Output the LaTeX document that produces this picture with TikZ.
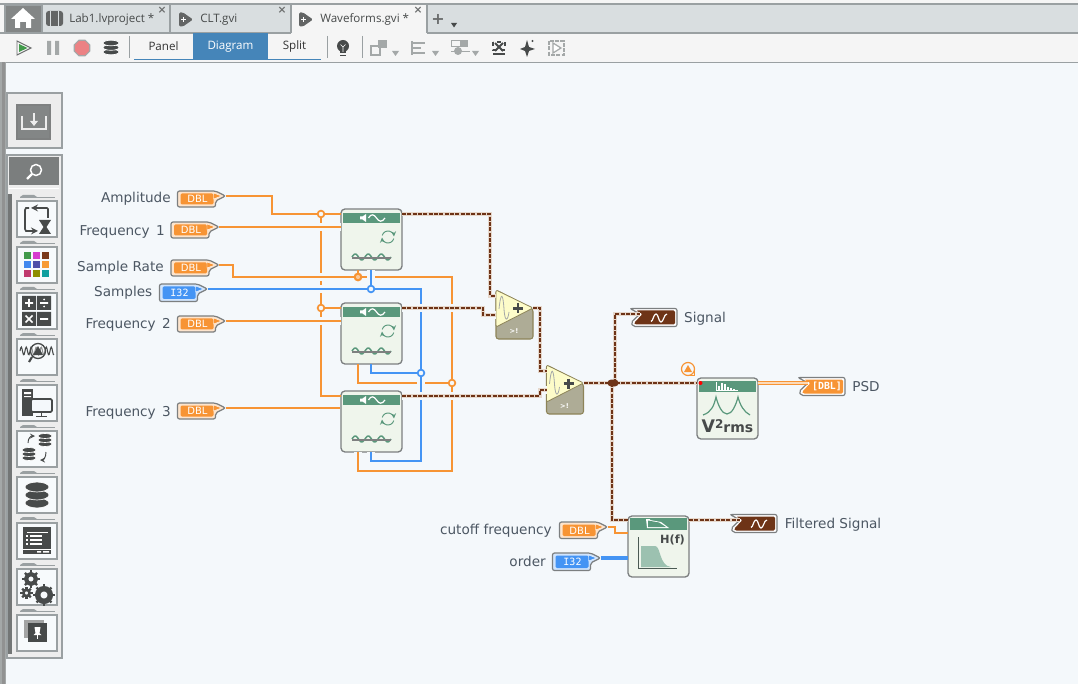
\documentclass[tikz,border=0pt]{standalone}
\usepackage{fontspec}
\setmainfont{DejaVu Sans}
\newfontfamily\tabfont{Open Sans}
\newfontfamily\typefont{DejaVu Sans Mono}
\usetikzlibrary{shapes.geometric}
\usetikzlibrary{calc}
\definecolor{canvas}{HTML}{F4F8FB}
\definecolor{barbg}{HTML}{F5F5F5}
\definecolor{tabbg}{HTML}{D9DEE0}
\definecolor{edgegray}{HTML}{9AA0A2}
\definecolor{palbg}{HTML}{EDEDED}
\definecolor{icondark}{HTML}{474A4A}
\definecolor{icongray}{HTML}{A4A8A8}
\definecolor{orangew}{HTML}{F79434}
\definecolor{bluew}{HTML}{4494F4}
\definecolor{brownw}{HTML}{6E3417}
\definecolor{sigtan}{HTML}{E6D8CC}
\definecolor{lblcol}{HTML}{4C5763}
\definecolor{termedge}{HTML}{7C7F80}
\definecolor{vihead}{HTML}{5A987C}
\definecolor{vibody}{HTML}{EFF5EC}
\definecolor{addgray}{HTML}{AEAC96}
\definecolor{addyellow}{HTML}{FDFCC9}
\definecolor{addedge}{HTML}{8D8458}
\definecolor{tabblue}{HTML}{4585B9}
\definecolor{stopred}{HTML}{EC8284}
\definecolor{gridA}{HTML}{429A4B}
\definecolor{gridB}{HTML}{D63CCF}
\definecolor{gridC}{HTML}{7B3A1B}
\definecolor{gridD}{HTML}{4288EE}
\definecolor{gridE}{HTML}{4E4FA8}
\definecolor{gridF}{HTML}{F79A34}
\definecolor{gridG}{HTML}{C03A6E}
\definecolor{gridH}{HTML}{8E8E00}
\definecolor{gridI}{HTML}{0F9F9F}
\tikzset{
	dblwire/.style={draw=orangew,line width=1.5pt},
	dblthick/.style={draw=orangew,line width=2.2pt},
	intwire/.style={draw=bluew,line width=1.6pt},
	ordwire/.style={draw=bluew,line width=2.3pt},
	sigwire/.style={preaction={draw=sigtan,solid,line width=2.5pt},draw=brownw,line width=1.7pt,dash pattern=on 3pt off 1pt},
	bridge/.style={preaction={draw=canvas,solid,line width=5.6pt}},
	arraywire/.style={draw=orangew,line width=.9pt,double=orangew!35,double distance=.9pt},
	junct/.style={circle,draw=#1,fill=canvas,line width=1.3pt,minimum size=5pt,inner sep=0pt},
	bigjunct/.style={circle,draw=orangew,fill=orangew!50,line width=1.5pt,minimum size=5pt,inner sep=0pt},
	viblock/.style={draw=termedge,fill=vibody,rounded corners=3pt,line width=1pt,minimum width=45.75pt,minimum height=45.75pt,inner sep=0pt},
	lbl/.style={font=\fontsize{10.2}{12}\selectfont,text=lblcol,inner sep=0pt},
	tabtext/.style={font=\tabfont\fontsize{8.7}{11}\selectfont,text=#1,inner sep=0pt},
	typetext/.style={font=\fontsize{7.5}{9}\selectfont,text=white,inner sep=0pt},
	btn/.style={draw=edgegray,fill=canvas!70!white,line width=.8pt},
	tinyx/.style={font=\bfseries\fontsize{8}{9}\selectfont,text=icondark!80,inner sep=0pt},
}
% constant with a pointer on its right side
\newcommand{\constterm}[6]{
	\begin{scope}[shift={(#2,#3)}]
	\path[draw=termedge,fill=#5!25!white,line width=.9pt,rounded corners=1.5pt] (0,0)--(38,0)--(48,5)--(38,10)--(38,#6)--(0,#6)--cycle;
	\path[fill=#5,rounded corners=1pt] (3,2.5)--(36,2.5)--(36,#6-2.5)--(3,#6-2.5)--cycle;
	\path[fill=#5,draw=white,line width=.3pt] (36,2)--(44,5)--(36,8)--cycle;
	\node[typetext] (#1) at (20,#6/2+.3) {#4};
	\coordinate (#1-tip) at (48,5);
	\end{scope}
}
% indicator with a notch on its left side
\newcommand{\tagterm}[4]{
	\begin{scope}[shift={(#2,#3)}]
	\path[draw=termedge,fill=white,line width=.9pt,rounded corners=1.5pt] (0,0)--(47,0)--(47,18)--(3,18)--(1,14)--(10,5.5)--cycle;
	\path[fill=#4,rounded corners=1pt] (6,2)--(45,2)--(45,16)--(5,16)--(4,14.5)--(12.5,5.5)--cycle;
	\coordinate (#1-in) at (10,5.5);
	\end{scope}
}
\newcommand{\waveicon}[2]{\draw[white,line width=.9pt] (#1-8,#2+3.5) .. controls (#1-6,#2+3.5) and (#1-5.5,#2-4) .. (#1-3,#2-4) .. controls (#1-.5,#2-4) and (#1-.5,#2+4) .. (#1+2,#2+4) .. controls (#1+4.5,#2+4) and (#1+5,#2-4) .. (#1+8,#2-4);}
% simulate signal block
\newcommand{\simvi}[3]{
	\begin{scope}[shift={(#2,#3)}]
	\node[viblock] (#1) at (30.5,30.5) {};
	\fill[vihead] (2,4) rectangle (59,14);
	\fill[white] (19,7.5)--(21.5,7.5)--(25,5)--(25,13)--(21.5,10.5)--(19,10.5)--cycle;
	\draw[white,line width=.9pt] (27.5,9) .. controls (30,4.5) and (33,5) .. (35.5,9) .. controls (38,13) and (41,13.5) .. (44,9);
	\draw[vihead,line width=.7pt,->,>=stealth] (47,28)++(195:6) arc (195:355:6);
	\draw[vihead,line width=.7pt,->,>=stealth] (47,28)++(15:6) arc (15:175:6);
	\draw[vihead,line width=1.1pt,domain=0:39,samples=40,smooth] plot ({11+\x},{48-3*sin(\x*360/13)});
	\draw[icondark!70,line width=.8pt] (11,49)--(50,49);
	\coordinate (#1-a) at (0,5);
	\coordinate (#1-f) at (0,18);
	\coordinate (#1-r) at (17,61);
	\coordinate (#1-n) at (30,61);
	\coordinate (#1-o) at (61,5);
	\end{scope}
}
% add block
\newcommand{\addvi}[3]{
	\begin{scope}[shift={(#2,#3)}]
	\path[draw=addedge,fill=addgray,line width=.8pt,rounded corners=2pt] (0,0)--(37,19)--(37,49)--(0,49)--cycle;
	\path[fill=addyellow,draw=addedge,line width=.6pt,rounded corners=1pt] (0,0)--(37,18)--(0,37)--cycle;
	\draw[icongray,line width=.6pt] (3,19) .. controls (5,0) and (7,4) .. (8,19) .. controls (9,34) and (12,30) .. (13,22);
	\draw[icondark,line width=1.8pt] (17,18.5)--(27,18.5) (22,13.5)--(22,23.5);
	\node[typetext,font=\bfseries\fontsize{5}{6}\selectfont,text=white] (#1) at (18,41) {>!};
	\coordinate (#1-a) at (0,6);
	\coordinate (#1-b) at (0,25);
	\coordinate (#1-o) at (37,18);
	\end{scope}
}
% stack of discs
\newcommand{\dbicon}[5]{
	\foreach \k in {2,1,0} {\filldraw[fill=#5,draw=white,line width=.5pt] (#1,#2+\k*#4) ellipse (#3 and #4*.62);}
}
\newcommand{\gearicon}[3]{
	\foreach \a in {0,45,...,315} {\draw[icondark,line width=1.7pt] ($(#1,#2)+(\a:#3-1)$)--($(#1,#2)+(\a:#3+1.6)$);}
	\draw[icondark,line width=#3*.45pt] (#1,#2) circle (#3*.7);
}
\begin{document}
\begin{tikzpicture}[x=.75pt,y=-.75pt]
	\useasboundingbox (0,0) rectangle (1078,684);
	\fill[canvas] (0,0) rectangle (1078,684);
	% tabs
	\fill[barbg] (0,0) rectangle (1078,62);
	\fill[tabbg] (41,5) rectangle (1078,33);
	\draw[edgegray,line width=.8pt] (0,4)--(1078,4);
	\fill[barbg] (291,5) rectangle (427,34);
	\fill[icongray!80!black] (5,5) rectangle (42,33);
	\draw[edgegray,line width=.8pt] (5,5) rectangle (42,33) (170,5)--(170,33) (291,5)--(291,33) (427,5)--(427,33) (0,33)--(291,33) (427,33)--(1078,33);
	\fill[white] (11,19)--(23,8)--(35,19)--(31,19)--(31,28)--(26,28)--(26,22)--(20,22)--(20,28)--(15,28)--(15,19)--cycle;
	\fill[icondark!85,rounded corners=2pt] (46,11) rectangle (63,26);
	\draw[tabbg,line width=.7pt] (50.5,11)--(50.5,26) (58.5,11)--(58.5,26);
	\foreach \tx in {179,299} {\fill[icondark!85,rounded corners=1pt] (\tx,12.5)--(\tx+4,12.5)--(\tx+14,19.5)--(\tx+4,26.5)--(\tx,26.5)--cycle;\draw[white,line width=.6pt] (\tx+2,19.5)--(\tx+7,19.5) (\tx+4.5,17)--(\tx+4.5,22);}
	\node[tabtext=icondark,anchor=west] (tablab) at (69,19.5) {Lab1.lvproject *};
	\node[tabtext=icondark,anchor=west] (tabclt) at (200,19.5) {CLT.gvi};
	\node[tabtext=icondark,anchor=west] (tabwave) at (320,19.5) {Waveforms.gvi *};
	\node[tinyx] (xlab) at (162,10.5) {×};
	\node[tinyx] (xclt) at (282,10.5) {×};
	\node[tinyx] (xwave) at (418,10.5) {×};
	\node[tinyx,font=\bfseries\fontsize{12}{13}\selectfont] (plustab) at (438,19) {+};
	\fill[icondark] (451,23)--(457,23)--(454,27.5)--cycle;
	% toolbar
	\draw[edgegray,line width=.8pt] (0,62.5)--(1078,62.5);
	\draw[icondark!80,line width=.7pt,fill=barbg] (17,41)--(31,48)--(17,55)--cycle;
	\fill[gridA] (19,44)--(27.5,48)--(19,52)--cycle;
	\fill[icongray] (47,41) rectangle (51,55) (55,41) rectangle (59,55);
	\node[regular polygon,regular polygon sides=8,draw=icongray,fill=stopred,line width=.9pt,minimum size=12.5pt,inner sep=0pt] (stopbtn) at (82,48) {};
	\dbicon{111}{43}{8}{4.5}{icondark}
	\draw[edgegray,line width=.6pt] (129,36)--(129,58) (327,36)--(327,58) (362,36)--(362,58);
	\fill[tabblue] (193,33.5) rectangle (268,59);
	\draw[tabblue,line width=1.1pt] (134,59.5)--(321,59.5);
	\node[tabtext=black!80] (tabpanel) at (163.5,46.5) {Panel};
	\node[tabtext=white] (tabdiagram) at (230.5,46.5) {Diagram};
	\node[tabtext=black!80] (tabsplit) at (294.5,46.5) {Split};
	\fill[icondark] (343,46) circle (6);
	\fill[icondark] (340,50) rectangle (346,53);
	\draw[white,line width=.5pt] (343,52)--(343,47) (340.5,44.5)--(343,47)--(345.5,44.5);
	\draw[icondark,line width=.7pt] (340,55)--(346,55);
	\draw[icongray,line width=.9pt] (371,46) rectangle (380,55);
	\fill[icongray] (378,40) rectangle (387,48);
	\draw[icongray,line width=.9pt] (412,41)--(412,55) (412,43)--(425,43) (412,48)--(421,48) (412,53)--(425,53);
	\draw[icongray,line width=.6pt] (451,46)--(451,40)--(467,40)--(467,46)--cycle;
	\fill[icongray] (460,40) rectangle (467,46);
	\fill[icongray] (458,51) circle (4);
	\draw[icongray,line width=.6pt] (451,51)--(470,51);
	\foreach \tx in {392,432,472} {\fill[icongray] (\tx,51)--(\tx+7,51)--(\tx+3.5,56)--cycle;}
	\draw[icondark,line width=.8pt,dashed] (493,42) rectangle (505,50);
	\draw[icondark,line width=.8pt] (493,54)--(505,54);
	\draw[icondark,line width=1.5pt] (495,43)--(503,51) (503,43)--(495,51);
	\fill[icondark] (527,40)--(529,47)--(535,49)--(529,51)--(527,57)--(525,51)--(520,49)--(525,47)--cycle;
	\fill[icondark] (532.5,41) circle (1.2);
	\draw[icongray,line width=.9pt,dash pattern=on 3pt off 1pt] (549,41) rectangle (564,55);
	\draw[icongray,fill=white,line width=.9pt] (553,43)--(561,48)--(553,53)--cycle;
	% palette
	\fill[icongray] (0,62) rectangle (6,684);
	\fill[icondark!60!white] (2,62) rectangle (5,684);
	\draw[edgegray,fill=palbg,line width=.8pt] (7,93) rectangle (62,148);
	\draw[icondark!70,fill=icongray!80!black,line width=.8pt] (17,105) rectangle (50,139);
	\draw[palbg,line width=1.1pt] (22,116)--(22,129)--(46,129)--(46,116) (34,113)--(34,123);
	\fill[palbg] (30,121)--(38,121)--(34,126)--cycle;
	\draw[edgegray,fill=palbg,line width=.8pt] (7,155) rectangle (62,658);
	\fill[icongray!75!black] (9,157) rectangle (59,185);
	\draw[white,line width=.6pt] (9,188)--(59,188);
	\draw[white,line width=1.1pt] (36,170) circle (5.5);
	\draw[white,line width=1.6pt] (32,174)--(27,179);
	\fill[icongray!70!black] (8,194) rectangle (12,654);
	\foreach \by in {201,247,...,615} {
		\draw[btn] (17,\by) rectangle (57,\by+36);
		\draw[edgegray,line width=.7pt] (20,\by-4)--(55,\by-4);
		\fill[edgegray] (20,\by-4)--(23,\by-6)--(34,\by-6)--(37,\by-4)--cycle;
	}
	% loop
	\draw[icondark,line width=1.3pt,->,>=stealth] (48,218)--(48,209)--(47,208)--(31,208);
	\draw[icondark,line width=1.3pt,->,>=stealth] (29,208)--(26,208)--(25,210)--(25,229)--(26,231)--(38,231);
	\fill[icondark] (39,220)--(51,220)--(46.5,227)--(51,234)--(39,234)--(43.5,227)--cycle;
	% colour grid
	\foreach \cx/\cy/\cc in {24/252/gridA,33/252/gridB,42/252/gridC,24/261/gridD,33/261/gridE,42/261/gridF,24/270/gridG,33/270/gridH,42/270/gridI} {\fill[\cc] (\cx,\cy) rectangle (\cx+7,\cy+7);}
	% math
	\fill[icondark] (22,296) rectangle (36,310) (37,296) rectangle (51,310) (22,312) rectangle (36,326) (37,312) rectangle (51,326);
	\draw[white,line width=1.2pt] (25,303)--(33,303) (29,299)--(29,307) (40,303)--(48,303) (25.5,315.5)--(32.5,322.5) (32.5,315.5)--(25.5,322.5) (40,319)--(48,319);
	\fill[white] (44,299.5) circle (1) (44,306.5) circle (1);
	% wave and lens
	\draw[icondark,line width=.8pt,domain=0:34,samples=50,smooth] plot ({20+\x},{351-4*sin(\x*72)});
	\draw[icondark,line width=1pt,fill=white,fill opacity=.4] (38,351) circle (7.5);
	\fill[icondark] (33,355)--(38,346)--(43,355)--cycle;
	\draw[icondark,line width=1.6pt] (32,357)--(29,362);
	% computer
	\fill[icondark] (22,389) rectangle (33,416);
	\fill[white] (24,392) rectangle (31,394) (24,396) rectangle (31,397);
	\draw[icondark,fill=canvas,line width=1.3pt,rounded corners=1pt] (31,399) rectangle (52,412);
	\draw[icondark,line width=1.3pt] (41.5,412)--(41.5,416) (36,416.5)--(47,416.5);
	% two stores
	\dbicon{45}{436}{7}{4}{icondark}
	\dbicon{29}{450}{7}{4}{icondark}
	\draw[icondark,line width=.7pt,->,>=stealth] (28,443) .. controls (28,438) and (31,436) .. (35,436);
	\draw[icondark,line width=.7pt,->,>=stealth] (46,452) .. controls (46,458) and (43,460) .. (40,460);
	% store
	\dbicon{37}{487}{12}{8}{icondark}
	% window
	\fill[icondark] (23,527) rectangle (51,554);
	\draw[white,line width=.7pt] (27,532)--(48,532) (23,549)--(51,549);
	\foreach \wy in {536,540,544} {\fill[white] (26,\wy-.8) rectangle (28,\wy+.8);\draw[white,line width=.8pt] (30,\wy)--(42,\wy);}
	\fill[white] (37,551) rectangle (41,552.5) (43,551) rectangle (49,552.5);
	% gears
	\gearicon{31}{579}{7}
	\gearicon{26.5}{593}{4.5}
	\gearicon{44}{595}{9}
	% pin
	\fill[icondark!50!white] (24,620) rectangle (44,638);
	\fill[icondark] (28,623) rectangle (47,642);
	\fill[white] (34.5,627)--(40.5,627)--(39.5,633)--(41.5,635)--(33.5,635)--(35.5,633)--cycle;
	\draw[white,line width=.9pt] (37.5,635)--(37.5,639);
	% front blocks
	\simvi{vione}{341}{209}
	\simvi{vitwo}{341}{303}
	\simvi{vithree}{341}{391}
	\addvi{adda}{496}{290}
	\addvi{addb}{546.5}{365}
	% terminals
	\constterm{amp}{177.5}{191}{DBL}{orangew}{16}
	\constterm{freqa}{171}{222}{DBL}{orangew}{16}
	\constterm{rate}{171}{260}{DBL}{orangew}{16}
	\constterm{smp}{159.5}{284}{\typefont I32}{bluew}{17.5}
	\constterm{freqb}{177.5}{316}{DBL}{orangew}{16}
	\constterm{freqc}{177.5}{403}{DBL}{orangew}{16}
	\constterm{cutoff}{559.5}{522}{DBL}{orangew}{16.5}
	\constterm{ord}{552.5}{553}{\typefont I32}{bluew}{17.5}
	\node[lbl,anchor=east] (lamp) at (171,199.2) {Amplitude};
	\node[lbl,anchor=east] (lfreqa) at (165,231.9) {Frequency\hspace{1.5pt} 1};
	\node[lbl,anchor=east] (lrate) at (164,268.2) {Sample Rate};
	\node[lbl,anchor=east] (lsmp) at (152.5,293.2) {Samples};
	\node[lbl,anchor=east] (lfreqb) at (171,324.9) {Frequency\hspace{1.5pt} 2};
	\node[lbl,anchor=east] (lfreqc) at (171,412.9) {Frequency\hspace{1.5pt} 3};
	\node[lbl,anchor=east] (lcutoff) at (552,531.2) {cutoff frequency};
	\node[lbl,anchor=east] (lord) at (546,561.5) {order};
	% junctions on the wires
	\coordinate (jamp) at (321,214);
	\coordinate (jamb) at (321,308);
	\coordinate (jrate) at (358,277);
	\coordinate (jrateb) at (452,383);
	\coordinate (jsmp) at (371,289);
	\coordinate (jsmpb) at (421,373);
	% wires
	\draw[dblwire] (amp-tip)--++(46,0)|-(vione-a);
	\draw[dblwire] (jamp)--(jamb)|-(vithree-a);
	\draw[dblwire] (jamb)--(vitwo-a);
	\draw[dblwire,bridge] (freqa-tip)--(vione-f);
	\draw[dblwire,bridge] (freqb-tip)--(vitwo-f);
	\draw[dblthick] (freqc-tip)--(vithree.west|-freqc-tip);
	\draw[dblwire,bridge] (rate-tip)--++(14,0)|-(jrate)--(452,277)--(452,471)-|(vithree-r);
	\draw[dblwire] (jrate)--(vione-r);
	\draw[dblwire] (vitwo-r)|-(jrateb);
	\draw[intwire,bridge] (smp-tip)-|(421,461)-|(vithree-n);
	\draw[intwire,bridge] (vione-n)--(jsmp);
	\draw[intwire] (vitwo-n)|-(jsmpb);
	\draw[sigwire] (vione-o)-|(490,296)--(adda-a);
	\draw[bridge,sigwire] (vitwo-o)-|(483,315)--(adda-b);
	\draw[bridge,sigwire] (vithree-o)-|(540,390)--(addb-b);
	\draw[sigwire] (adda-o)-|(540,371)--(addb-a);
	\tagterm{sigout}{630}{308.5}{brownw}{}
	\tagterm{psdout}{798}{377.5}{orangew}{}
	\tagterm{filtout}{730}{514.5}{brownw}{}
	\waveicon{659}{318}
	\waveicon{759}{524}
	\node[typetext,font=\typefont\bfseries\fontsize{7.4}{9}\selectfont] (dblarr) at (827,386.5) {[DBL]};
	\node[lbl] (lsig) at (705,319) {Signal};
	\node[lbl] (lpsd) at (866,386.6) {PSD};
	\node[lbl] (lfilt) at (833,525) {Filtered Signal};
	% power spectrum block
	\node[viblock] (vipsd) at (727.5,408.5) {};
	\fill[vihead] (699,380.5) rectangle (756,392);
	\draw[white,line width=.6pt] (716,382)--(716,390)--(738,390);
	\draw[white,line width=.9pt] (719,390)--(719,386) (722,390)--(722,383) (725,390)--(725,384) (728,390)--(728,387) (731,390)--(731,388) (734,390)--(734,389);
	\fill[red] (700.5,383) circle (2);
	\draw[vihead,line width=.9pt] (703,415) .. controls (712,412) and (714,405) .. (716,397) .. controls (718,405) and (722,414) .. (727,414) .. controls (732,414) and (736,405) .. (738,397) .. controls (740,405) and (744,412) .. (750,415);
	\node[inner sep=0pt,font=\bfseries\fontsize{13}{14}\selectfont,text=icondark] (vrms) at (727.5,426.5) {V\raisebox{.45ex}{\fontsize{9}{10}\selectfont 2}\fontsize{10.5}{12}\selectfont rms};
	\coordinate (vipsd-in) at (697,383);
	\coordinate (vipsd-o) at (758,383);
	% filter block
	\node[viblock] (vifilt) at (658.5,546.5) {};
	\fill[vihead] (630,518) rectangle (687,530);
	\fill[white] (646,519)--(647,528)--(669,528)--(661,522)--(650,520)--(650,519)--cycle;
	\fill[vihead] (648,520.5)--(648,527)--(666,527)--(659,522.5)--cycle;
	\node[inner sep=0pt,font=\bfseries\fontsize{8.5}{10}\selectfont,text=icondark] (hf) at (672.5,540) {H(f)};
	\fill[vihead!60!white] (641,546)--(655,546) .. controls (661,546) and (659,566) .. (671,567)--(641,567)--cycle;
	\draw[icondark!80!vihead,line width=.7pt] (638.5,537)--(638.5,568)--(677,568);
	\coordinate (vifilt-a) at (628,520);
	\coordinate (vifilt-c) at (628,533);
	\coordinate (vifilt-d) at (628,558);
	\coordinate (vifilt-o) at (689,520);
	% output side
	\coordinate (jout) at (613,383);
	\draw[sigwire] (addb-o)--(vipsd-in);
	\draw[sigwire] (jout)++(2,0)|-(sigout-in);
	\draw[sigwire] (jout)++(-1,0)|-(vifilt-a);
	\draw[sigwire] (vifilt-o)--(filtout-in);
	\draw[arraywire] (vipsd-o)--(psdout-in);
	\draw[dblwire] (cutoff-tip)--++(7,0)|-(vifilt-c);
	\draw[ordwire] (ord-tip)--(vifilt-d);
	% dots
	\node[junct=orangew] (dotamp) at (jamp) {};
	\node[junct=orangew] (dotamb) at (jamb) {};
	\node[bigjunct] (dotrate) at (jrate) {};
	\node[junct=orangew] (dotrateb) at (jrateb) {};
	\node[junct=bluew] (dotsmp) at (jsmp) {};
	\node[junct=bluew] (dotsmpb) at (jsmpb) {};
	\node[draw=brownw,fill=brownw,rounded corners=2pt,minimum width=7.5pt,minimum height=4.5pt,inner sep=0pt] (dotout) at (jout) {};
	% warning badge
	\draw[orangew,fill=canvas,line width=.9pt] (688,369) circle (6.5);
	\draw[orangew,line width=.9pt] (688,375.5)--(694.5,375.5)--(694.5,369);
	\fill[orangew] (684,372)--(692,372)--(688,365)--cycle;
\end{tikzpicture}
\end{document}
